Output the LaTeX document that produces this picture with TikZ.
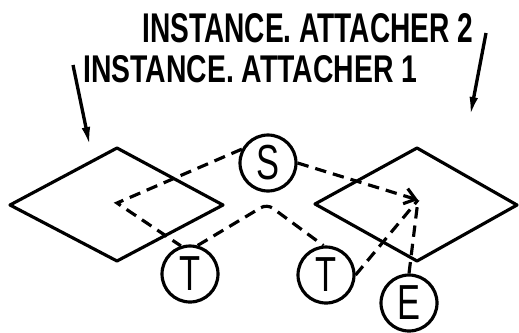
\documentclass[tikz,border=0pt]{standalone}
\usepackage{graphicx}
\usepackage{fontspec}
\setmainfont{Liberation Sans}
\usetikzlibrary{arrows.meta,positioning}

\newcommand{\rolelbl}[1]{\scalebox{0.7}[1]{\fontsize{28}{28}\selectfont #1}}

\begin{document}
\begin{tikzpicture}[x=0.02cm, y=-0.02cm,
    role/.style={draw, circle, line width=1.8pt, minimum size=1.12cm, inner sep=0pt},
    dsh/.style={line width=1.8pt, dash pattern=on 6.5pt off 4pt},
    lead/.style={line width=1.9pt, -{Latex[length=0.4cm, width=0.17cm]}},
    inst/.style={anchor=base west, inner sep=0pt, font=\bfseries}
]
\useasboundingbox (0,0) rectangle (519,332);

% instances
\draw[line width=1.8pt, line join=round] (10,205) -- (117,148) -- (223,205) -- (117,261) -- cycle;
\draw[line width=1.8pt, line join=round] (315,204) -- (417,148) -- (517,205) -- (417,261) -- cycle;

\node[inst] (lab2) at (142,42) {\resizebox{6.62cm}{0.58cm}{INSTANCE. ATTACHER 2}};
\node[inst] (lab1) at (83,82) {\resizebox{6.68cm}{0.54cm}{INSTANCE. ATTACHER 1}};

\coordinate (a1s) at (73,65);
\coordinate (a1e) at (90,147);
\coordinate (a2s) at (486,33);
\coordinate (a2e) at (470,117);
\draw[lead] (a1s) -- (a1e);
\draw[lead] (a2s) -- (a2e);

% roles
\node[role] (S) at (268,163) {\rolelbl{S}};
\node[role] (T1) at (190,274) {\rolelbl{T}};
\node[role] (T2) at (326,275) {\rolelbl{T}};
\node[role] (E) at (409,303) {\rolelbl{E}};

\coordinate (c1) at (117,203);
\coordinate (pk) at (267,204);
\coordinate (P) at (418,200);

\draw[dsh, line join=miter] (S.152) -- (c1) -- (T1.108);
\draw[dsh, rounded corners=4pt] (T1.75) -- (pk) -- (T2.95);
\draw[dsh, -{Straight Barb[length=6pt, width=9pt]}] (S.east) -- (P);
\draw[dsh] (T2.east) -- (P);
\draw[dsh] (E.north) -- (P);
\end{tikzpicture}
\end{document}
